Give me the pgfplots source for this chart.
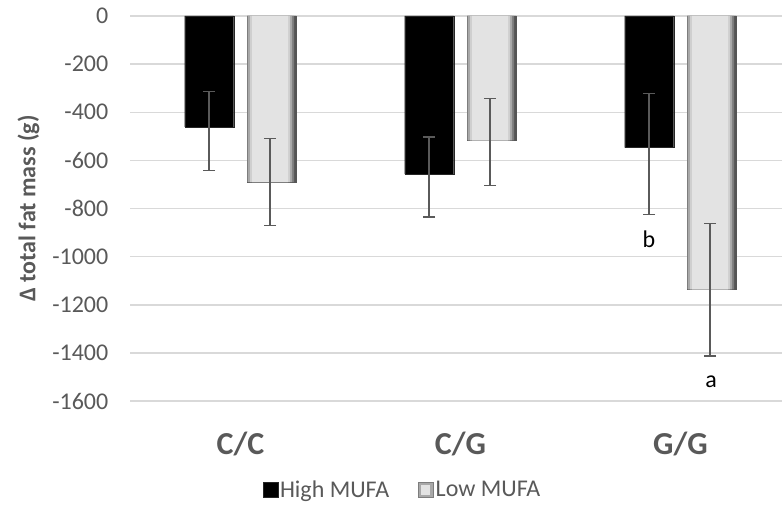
\documentclass[border=0pt]{standalone}
\usepackage{pgfplots}
\pgfplotsset{compat=1.18}
\usepackage{fontspec}
\setmainfont{Carlito}
\definecolor{txt}{HTML}{595959}
\definecolor{gridc}{HTML}{D9D9D9}
\definecolor{errc}{HTML}{5A5A5A}
\definecolor{lowA}{HTML}{555555}
\definecolor{lowB}{HTML}{7D7D7D}
\definecolor{lowC}{HTML}{A8A8A8}
\definecolor{lowD}{HTML}{CFCFCF}
\definecolor{lowE}{HTML}{E3E3E3}
\begin{document}
\begin{tikzpicture}
\path[use as bounding box] (0,0) rectangle (782pt,515pt);
\begin{axis}[
  at={(130.5pt,114pt)}, anchor=south west,
  scale only axis, width=651.5pt, height=385pt,
  xmin=-0.5, xmax=2.4614, ymin=-1600, ymax=0,
  ybar, bar width=49pt,
  axis line style={draw=none},
  major tick length=0pt,
  ytick={-1600,-1400,...,0},
  ymajorgrids, grid style={gridc, line width=1.5pt},
  xtick={0,1,2}, xticklabels={C/C,C/G,G/G},
  /pgf/number format/assume math mode=true,
  /pgf/number format/1000 sep={},
  yticklabel style={font=\fontsize{24}{28}\selectfont, text=txt, inner sep=0pt, xshift=-22pt},
  xticklabel style={font=\fontsize{32}{36}\selectfont\bfseries, text=txt, inner sep=0pt, yshift=-31pt},
  ylabel={Δ total fat mass (g)},
  ylabel style={font=\fontsize{24}{28}\selectfont\bfseries, text=txt, at={(axis description cs:-0.1566,0.5)}, anchor=center},
  legend style={at={(axis description cs:0.4175,-0.231)}, anchor=center, legend columns=2, draw=none, fill=none,
    font=\fontsize{24}{28}\selectfont, text=txt, /tikz/every even column/.append style={column sep=27pt}},
  legend image code/.code={\draw[#1] (0pt,-7.5pt) rectangle (15pt,7.5pt);},
  error bars/error bar style={errc, line width=1.5pt},
  error bars/error mark options={errc, line width=1.5pt, mark size=6pt, rotate=90},
]
\addplot[bar shift=-31.25pt, fill=black, draw=black!85,
  error bars/.cd, y dir=both, y explicit]
  coordinates {(0,-461) += (0,148) -= (0,182)
               (1,-657) += (0,154) -= (0,178)
               (2,-547) += (0,224) -= (0,277)};
\addlegendentry{High MUFA}
\addplot[bar shift=31.25pt, fill=lowA, draw=lowA,
  legend image code/.code={\draw[fill=lowC, draw=lowB] (0pt,-7.5pt) rectangle (15pt,7.5pt);
    \fill[lowE] (3pt,-4.5pt) rectangle (11pt,4.5pt);}]
  coordinates {(0,-690) (1,-517) (2,-1136)};
\addlegendentry{Low MUFA}
\addplot[forget plot, bar shift=30.25pt, bar width=47pt, fill=lowB, draw=none]
  coordinates {(0,-690) (1,-517) (2,-1136)};
\addplot[forget plot, bar shift=29.75pt, bar width=44pt, fill=lowC, draw=none]
  coordinates {(0,-690) (1,-517) (2,-1136)};
\addplot[forget plot, bar shift=29.75pt, bar width=40pt, fill=lowD, draw=none]
  coordinates {(0,-690) (1,-517) (2,-1136)};
\addplot[forget plot, bar shift=29.75pt, bar width=36pt, fill=lowE, draw=none,
  error bars/.cd, y dir=both, y explicit]
  coordinates {(0,-690) += (0,180) -= (0,180)
               (1,-517) += (0,174) -= (0,188)
               (2,-1136) += (0,274) -= (0,277)};
\node[anchor=base, font=\fontsize{24}{28}\selectfont] at (axis cs:1.857,-964) {b};
\node[anchor=base, font=\fontsize{24}{28}\selectfont] at (axis cs:2.139,-1542) {a};
\end{axis}
\end{tikzpicture}
\end{document}
